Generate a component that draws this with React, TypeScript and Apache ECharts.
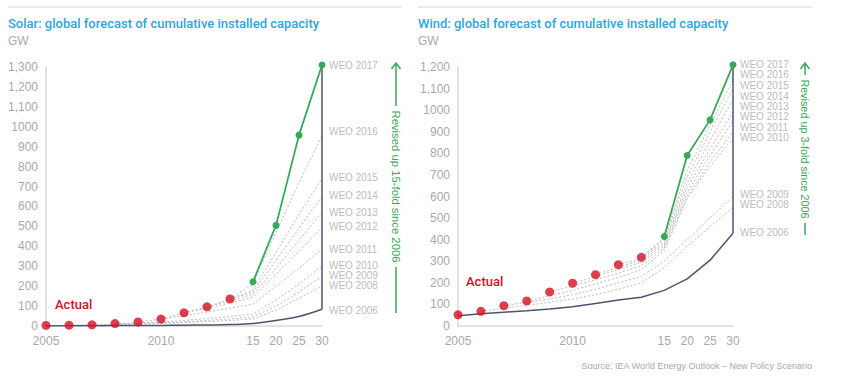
import React, { useEffect, useRef } from "react";
import * as echarts from "echarts";

const categories = ["2005", "2006", "2007", "2008", "2009", "2010", "2011", "2012", "2013", "2015", "2020", "2025", "2030"];
const xTickLabels = ["2005", "", "", "", "", "2010", "", "", "", "15", "20", "25", "30"];
const n = null;

// Solar (GW)
const solarActual = [3, 4, 6, 12, 20, 35, 66, 96, 136];
const solarWeo2006 = [0, 1, 1, 2, 2, 3, 4, 5, 7, 12, 28, 48, 84];
const solarWeo2017 = [n, n, n, n, n, n, n, n, n, 222, 505, 958, 1310];
const solarWeo2008 = [n, 4, 6, 8, 10, 13, 17, 22, 28, 35, 80, 140, 200];
const solarWeo2009 = [n, n, 6, 9, 12, 16, 21, 28, 36, 45, 100, 170, 250];
const solarWeo2010 = [n, n, n, 12, 16, 21, 28, 37, 48, 60, 130, 210, 300];
const solarWeo2011 = [n, n, n, n, 20, 35, 52, 70, 90, 110, 200, 290, 385];
const solarWeo2012 = [n, n, n, n, n, 35, 66, 90, 115, 145, 260, 375, 495];
const solarWeo2013 = [n, n, n, n, n, n, 66, 96, 125, 160, 290, 430, 570];
const solarWeo2014 = [n, n, n, n, n, n, n, 96, 136, 170, 330, 490, 650];
const solarWeo2015 = [n, n, n, n, n, n, n, n, 136, 180, 370, 560, 740];
const solarWeo2016 = [n, n, n, n, n, n, n, n, 136, 210, 470, 720, 955];
const solarRange = [84, 1310];
const solarLabelNames = ["WEO 2017", "WEO 2016", "WEO 2015", "WEO 2014", "WEO 2013", "WEO 2012", "WEO 2011", "WEO 2010", "WEO 2009", "WEO 2008", "WEO 2006"];
const solarLabelY = [1310, 975, 743, 653, 570, 497, 382, 306, 251, 201, 80];

// Wind (GW)
const windActual = [52, 68, 94, 116, 158, 198, 238, 284, 318];
const windWeo2006 = [48, 57, 64, 71, 79, 89, 104, 120, 133, 165, 218, 305, 430];
const windWeo2017 = [n, n, n, n, n, n, n, n, n, 415, 790, 955, 1210];
const windWeo2008 = [n, 68, 82, 96, 110, 125, 145, 170, 200, 270, 370, 460, 550];
const windWeo2009 = [n, n, 94, 110, 125, 145, 170, 200, 230, 300, 400, 500, 600];
const windWeo2010 = [n, n, n, 116, 140, 165, 195, 225, 260, 350, 590, 740, 870];
const windWeo2011 = [n, n, n, n, 158, 185, 215, 245, 280, 360, 600, 760, 900];
const windWeo2012 = [n, n, n, n, n, 198, 230, 262, 295, 370, 620, 790, 950];
const windWeo2013 = [n, n, n, n, n, n, 238, 272, 305, 380, 640, 820, 990];
const windWeo2014 = [n, n, n, n, n, n, n, 284, 312, 390, 660, 860, 1050];
const windWeo2015 = [n, n, n, n, n, n, n, n, 318, 400, 690, 900, 1100];
const windWeo2016 = [n, n, n, n, n, n, n, n, 318, 410, 720, 930, 1140];
const windRange = [430, 1210];
const windLabelNames = ["WEO 2017", "WEO 2016", "WEO 2015", "WEO 2014", "WEO 2013", "WEO 2012", "WEO 2011", "WEO 2010", "WEO 2009", "WEO 2008", "WEO 2006"];
const windLabelY = [1210, 1163, 1112, 1063, 1016, 970, 921, 873, 610, 561, 434];

const FONT = "Liberation Sans, Arial, Helvetica, sans-serif";
const NAVY = "#4b5571";
const RED = "#d50f1f";
const GREEN = "#3aa75b";
const DASH = "#bcbcbc";
const GRAYTXT = "#a9a9a9";

function panelSeries(idx: number, d: any) {
  const dashed = d.dashed.map((arr: any[]) => ({
    type: "line",
    xAxisIndex: idx,
    yAxisIndex: idx,
    data: arr,
    symbol: "none",
    lineStyle: { color: DASH, width: 1, type: [2, 2] },
    z: 2,
  }));
  return [
    ...dashed,
    {
      type: "line",
      xAxisIndex: idx,
      yAxisIndex: idx,
      data: d.weo2006,
      symbol: "none",
      smooth: d.smooth ? 0.4 : false,
      lineStyle: { color: NAVY, width: 1.5 },
      z: 3,
    },
    {
      type: "line",
      xAxisIndex: idx,
      yAxisIndex: idx,
      data: [[12, d.range[0]], [12, d.range[1]]],
      symbol: "none",
      clip: false,
      lineStyle: { color: NAVY, width: 1.5 },
      z: 3,
    },
    {
      type: "line",
      xAxisIndex: idx,
      yAxisIndex: idx,
      data: d.weo2017,
      symbol: "circle",
      symbolSize: 7,
      clip: false,
      itemStyle: { color: GREEN },
      lineStyle: { color: GREEN, width: 1.8 },
      z: 4,
    },
    {
      type: "scatter",
      xAxisIndex: idx,
      yAxisIndex: idx,
      data: d.actual,
      symbol: "circle",
      symbolSize: 9,
      itemStyle: { color: RED },
      z: 5,
    },
    {
      type: "scatter",
      xAxisIndex: idx,
      yAxisIndex: idx,
      data: d.labelY.map((y: number, i: number) => ({ value: [12, y], name: d.labelNames[i] })),
      symbolSize: 0,
      clip: false,
      label: {
        show: true,
        position: "right",
        distance: 7,
        formatter: (p: any) => p.name,
        color: GRAYTXT,
        fontSize: 10,
        fontFamily: FONT,
      },
      z: 6,
    },
  ];
}

function xAxis(gridIndex: number) {
  return {
    type: "category",
    gridIndex,
    data: categories,
    boundaryGap: false,
    axisLine: { show: true, lineStyle: { color: "#d9d9d9", width: 1.5 } },
    axisTick: { show: false },
    axisLabel: {
      interval: 0,
      margin: 9,
      color: GRAYTXT,
      fontSize: 12,
      fontFamily: FONT,
      formatter: (_v: string, i: number) => xTickLabels[i],
    },
    splitLine: { show: false },
  };
}

function yAxis(gridIndex: number, max: number) {
  return {
    type: "value",
    gridIndex,
    min: 0,
    max,
    interval: 100,
    axisLine: { show: true, lineStyle: { color: "#d9d9d9", width: 1.5 } },
    axisTick: { show: false },
    splitLine: { show: false },
    axisLabel: {
      margin: 8,
      color: GRAYTXT,
      fontSize: 12,
      fontFamily: FONT,
      formatter: (v: number) => (v > 1000 ? "1," + String(v - 1000).padStart(3, "0") : String(v)),
    },
  };
}

function arrowText(x: number, yHead: number, yTextTop: number, yTextBottom: number, yEnd: number, text: string, size: number) {
  return [
    { type: "polyline", shape: { points: [[x - 4.5, yHead + 6], [x, yHead], [x + 4.5, yHead + 6]] }, style: { stroke: GREEN, lineWidth: 1.5, fill: "none" } },
    { type: "line", shape: { x1: x, y1: yHead, x2: x, y2: yTextTop - 4 }, style: { stroke: GREEN, lineWidth: 1.5 } },
    {
      type: "text",
      x,
      y: (yTextTop + yTextBottom) / 2,
      rotation: -Math.PI / 2,
      style: { text, fill: GREEN, fontSize: size, fontFamily: FONT, align: "center", verticalAlign: "middle" },
    },
    { type: "line", shape: { x1: x, y1: yTextBottom + 4, x2: x, y2: yEnd }, style: { stroke: GREEN, lineWidth: 1.5 } },
  ];
}

export default function App() {
  const ref = useRef<HTMLDivElement>(null);
  useEffect(() => {
    if (!ref.current) return;
    const chart = echarts.init(ref.current, null, { renderer: "svg" });
    const solar = {
      dashed: [solarWeo2008, solarWeo2009, solarWeo2010, solarWeo2011, solarWeo2012, solarWeo2013, solarWeo2014, solarWeo2015, solarWeo2016],
      weo2006: solarWeo2006,
      weo2017: solarWeo2017,
      actual: solarActual,
      range: solarRange,
      labelNames: solarLabelNames,
      labelY: solarLabelY,
      smooth: true,
    };
    const wind = {
      dashed: [windWeo2008, windWeo2009, windWeo2010, windWeo2011, windWeo2012, windWeo2013, windWeo2014, windWeo2015, windWeo2016],
      weo2006: windWeo2006,
      weo2017: windWeo2017,
      actual: windActual,
      range: windRange,
      labelNames: windLabelNames,
      labelY: windLabelY,
      smooth: false,
    };
    chart.setOption({
      animation: false,
      backgroundColor: "#ffffff",
      grid: [
        { left: 46, top: 67, width: 276, height: 259 },
        { left: 458, top: 67, width: 275, height: 259 },
      ],
      xAxis: [xAxis(0), xAxis(1)],
      yAxis: [yAxis(0, 1300), yAxis(1, 1200)],
      series: [...panelSeries(0, solar), ...panelSeries(1, wind)],
      graphic: [
        { type: "line", shape: { x1: 8, y1: 7, x2: 401, y2: 7 }, style: { stroke: "#e3e3e3", lineWidth: 1.5 } },
        { type: "line", shape: { x1: 418, y1: 7, x2: 812, y2: 7 }, style: { stroke: "#e3e3e3", lineWidth: 1.5 } },
        { type: "text", x: 8, y: 23, style: { text: "Solar: global forecast of cumulative installed capacity", fill: "#2ea6df", fontSize: 13, fontFamily: "Roboto, " + FONT, fontWeight: 500, verticalAlign: "middle" } },
        { type: "text", x: 8, y: 41, style: { text: "GW", fill: GRAYTXT, fontSize: 12, fontFamily: FONT, verticalAlign: "middle" } },
        { type: "text", x: 418, y: 23, style: { text: "Wind: global forecast of cumulative installed capacity", fill: "#2ea6df", fontSize: 13, fontFamily: "Roboto, " + FONT, fontWeight: 500, verticalAlign: "middle" } },
        { type: "text", x: 418, y: 41, style: { text: "GW", fill: GRAYTXT, fontSize: 12, fontFamily: FONT, verticalAlign: "middle" } },
        { type: "text", x: 55, y: 304, style: { text: "Actual", fill: RED, fontSize: 13, fontFamily: "Roboto, " + FONT, fontWeight: 500, verticalAlign: "middle" } },
        { type: "text", x: 466, y: 281, style: { text: "Actual", fill: RED, fontSize: 13, fontFamily: "Roboto, " + FONT, fontWeight: 500, verticalAlign: "middle" } },
        ...arrowText(396, 63, 110, 263, 313, "Revised up 15-fold since 2006", 11.3),
        ...arrowText(805, 63, 79, 219, 235, "Revised up 3-fold since 2006", 10.8),
        { type: "text", x: 812, y: 366, style: { text: "Source: IEA World Energy Outlook \u2013 New Policy Scenario", fill: GRAYTXT, fontSize: 9, fontFamily: FONT, align: "right", verticalAlign: "middle" } },
      ],
    });
    return () => chart.dispose();
  }, []);
  return <div ref={ref} style={{ position: "absolute", left: 0, top: 0, width: 867, height: 380 }} />;
}
